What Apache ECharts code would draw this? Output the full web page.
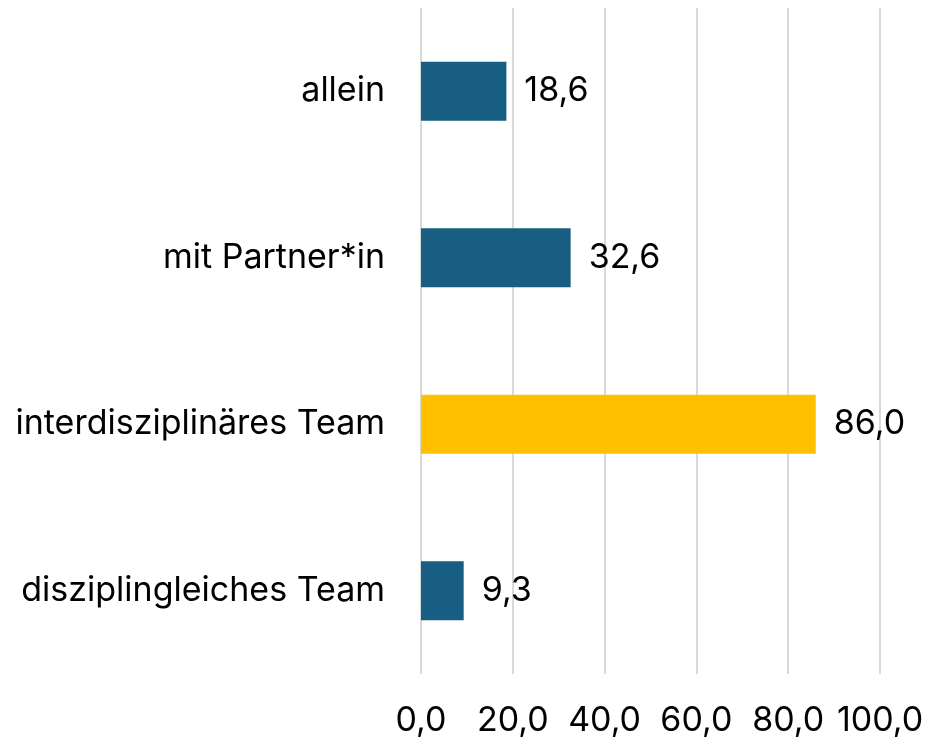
<!DOCTYPE html>
<html>
<head>
<meta charset="utf-8">
<script src="https://cdn.jsdelivr.net/npm/echarts@6/dist/echarts.min.js"></script>
<style>
  html, body { margin: 0; padding: 0; background: #fff; }
  #chart { width: 929px; height: 739px; }
</style>
</head>
<body>
<div id="chart"></div>
<script>
// Kategorien von oben nach unten
var categories = ['allein', 'mit Partner*in', 'interdisziplinäres Team', 'disziplingleiches Team'];
var values = [18.6, 32.6, 86.0, 9.3];
var barColors = ['#175E82', '#175E82', '#FFC000', '#175E82'];
var xTicks = [0, 20, 40, 60, 80, 100];

var myChart = echarts.init(document.getElementById('chart'));
var fontFam = 'Inter, "Noto Sans", sans-serif';

var option = {
    animation: false,
    grid: {
        left: 421,
        right: 49,
        top: 8,
        bottom: 65
    },
    xAxis: {
        type: 'value',
        min: xTicks[0],
        max: xTicks[xTicks.length - 1],
        interval: 20,
        axisLine: { show: false },
        axisTick: { show: false },
        splitLine: { lineStyle: { color: '#d9d9d9', width: 2 } },
        axisLabel: {
            margin: 30,
            color: '#000',
            fontSize: 34,
            fontFamily: fontFam,
            formatter: function (v) { return v.toFixed(1).replace('.', ','); }
        }
    },
    yAxis: {
        type: 'category',
        inverse: true,
        data: categories,
        axisLine: { show: false },
        axisTick: { show: false },
        axisLabel: {
            margin: 36,
            color: '#000',
            fontSize: 34,
            fontFamily: fontFam
        }
    },
    series: [
        {
            type: 'bar',
            barWidth: 59,
            data: values.map(function (v, i) {
                return { value: v, itemStyle: { color: barColors[i] } };
            }),
            label: {
                show: true,
                position: 'right',
                distance: 18,
                color: '#000',
                fontSize: 34,
                fontFamily: fontFam,
                formatter: function (p) { return p.value.toFixed(1).replace('.', ','); }
            }
        }
    ]
};

myChart.setOption(option);
</script>
</body>
</html>
